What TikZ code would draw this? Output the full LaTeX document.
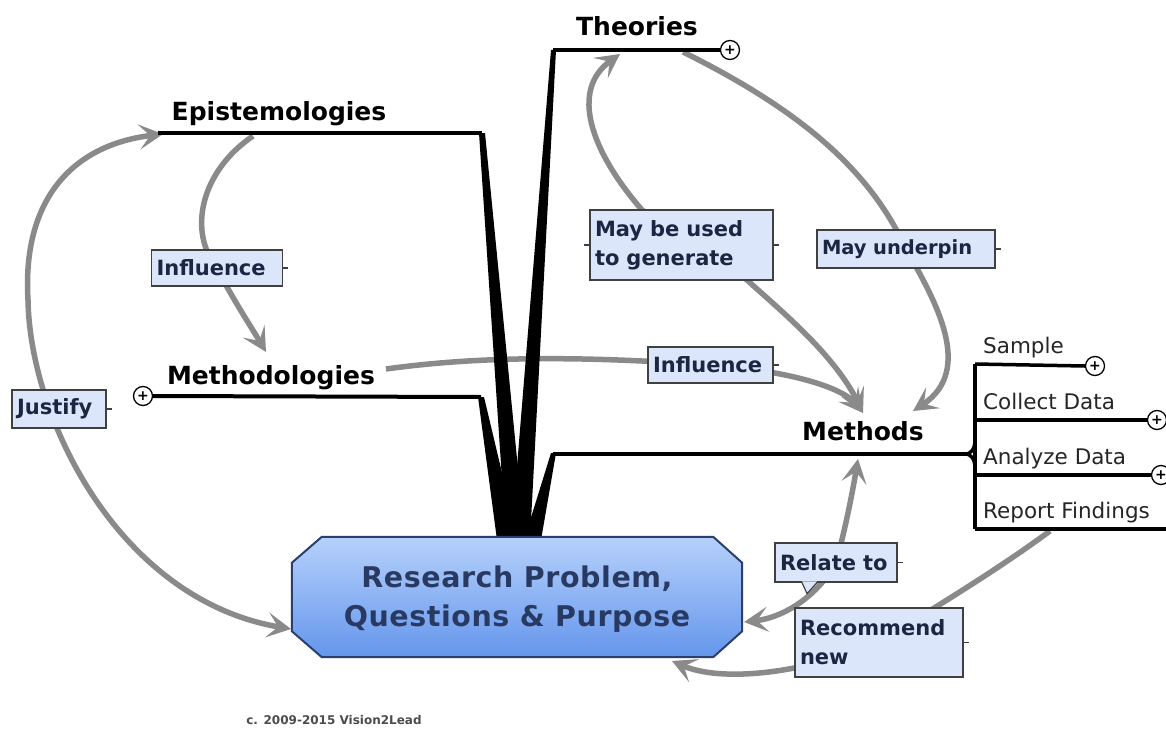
\documentclass[tikz,border=0pt]{standalone}
\usepackage{fontspec}
\setmainfont{DejaVu Sans}
\usetikzlibrary{arrows.meta,calc}

\definecolor{linkgray}{HTML}{8A8A8A}
\definecolor{labelfill}{HTML}{DCE6FB}
\definecolor{labelink}{HTML}{1C2642}
\definecolor{coreedge}{HTML}{2C3F6C}
\definecolor{coreink}{HTML}{283A62}
\definecolor{coretop}{HTML}{B6D1FB}
\definecolor{corebottom}{HTML}{6496EC}

\pgfdeclarelayer{bg}
\pgfsetlayers{bg,main}

\begin{document}
\begin{tikzpicture}[x=1pt,y=-1pt,
  >={Stealth[length=24pt,width=25pt,inset=11pt]},
  topic/.style={font=\fontsize{25}{30}\selectfont\bfseries, text=black, inner sep=0pt, anchor=base},
  subtopic/.style={font=\fontsize{21.5}{26}\selectfont, text=black!85, inner sep=0pt, anchor=base west},
  linklabel/.style={draw=black!75, line width=1.2pt, fill=labelfill, text=labelink,
    font=\fontsize{21}{29}\selectfont\bfseries, inner xsep=5pt, inner ysep=0pt, align=left},
  rel/.style={draw=linkgray, line width=5.5pt},
  branch/.style={line width=4pt, black},
  subbranch/.style={line width=3.5pt, black},
  wedge/.style={fill=black},
  expander/.style={circle, draw=black, line width=1.3pt, fill=white, minimum size=19pt,
    inner sep=0pt, font=\fontsize{14}{14}\selectfont\bfseries},
  ticks/.style={draw=black!75, line width=1.2pt}
]
% page
\useasboundingbox (0,0) rectangle (1166,733);

% central topic: octagonal box with its text
\node[minimum width=450pt, minimum height=120pt, inner sep=0pt] (core) at (517,597) {};
\draw[line width=2pt, draw=coreedge, top color=coretop, bottom color=corebottom]
  ($(core.north west)+(30,0)$) -- ($(core.north east)+(-29,0)$) -- ($(core.north east)+(0,26)$)
  -- ($(core.south east)+(0,-26)$) -- ($(core.south east)+(-29,0)$) -- ($(core.south west)+(30,0)$)
  -- ($(core.south west)+(0,-26)$) -- ($(core.north west)+(0,26)$) -- cycle;
\node[text=coreink, align=center, inner sep=0pt,
      font=\fontsize{28.5}{39}\selectfont\bfseries\addfontfeature{LetterSpace=2}] (coretext) at (517,599)
      {Research Problem,\\Questions \& Purpose};

% main topics
\node[topic] (theories) at (637,36) {Theories};
\node[topic] (epist) at (279,121) {Epistemologies};
\node[topic] (methodol) at (271,384) {Methodologies};
\node[topic] (methods) at (863,440) {Methods};

% subtopics of Methods
\node[subtopic] (sample) at (983,353) {Sample};
\node[subtopic] (collect) at (983,409) {Collect Data};
\node[subtopic] (analyze) at (983,464) {Analyze Data};
\node[subtopic] (report) at (983,518) {Report Findings};

% collapsed-branch markers
\node[expander] (plusT) at (730,50) {+};
\node[expander] (plusM) at (143,396) {+};
\node[expander] (plusS) at (1095,366) {+};
\node[expander] (plusC) at (1157,420) {+};
\node[expander] (plusA) at (1161,475) {+};

% relationship labels
\node[linklabel, text width=121pt, minimum height=36pt] (inflA) at (217,268) {Influence};
\node[linklabel, text width=84pt, minimum height=38pt] (justify) at (59,409) {Justify};
\node[linklabel, text width=173pt, minimum height=70pt] (genL) at (681.5,245) {May be used\\to generate};
\node[linklabel, text width=168pt, minimum height=38pt, font=\fontsize{19.5}{24}\selectfont\bfseries] (underpin) at (906,249) {May underpin};
\node[linklabel, text width=115pt, minimum height=36pt] (inflB) at (710.5,365) {Influence};
\node[linklabel, text width=112pt, minimum height=39pt] (relate) at (836,562.5) {Relate to};
\node[linklabel, text width=158pt, minimum height=69pt] (recommend) at (879,642.5) {Recommend\\new};

% small ticks on the label boxes
\foreach \n in {inflA,justify,genL,underpin,inflB,relate,recommend}
  \draw[ticks] (\n.east) -- ++(5,0);
\draw[ticks] (genL.west) -- ++(-5,0);

% callout pointer under "Relate to"
\fill[labelfill] ($(relate.south)+(-34,-1.2)$) -- ($(relate.south)+(-29,11)$) -- ($(relate.south)+(-19,-1.2)$) -- cycle;
\draw[ticks] ($(relate.south)+(-34,0)$) -- ($(relate.south)+(-29,11)$) -- ($(relate.south)+(-19,0)$);

% branch end points
\coordinate (tL) at (553,50);
\coordinate (eL) at (158,133);
\coordinate (eR) at (482,133);
\coordinate (mR) at (481,397);
\coordinate (msL) at (553,454);
\coordinate (msR) at (966,454);
\coordinate (sTop) at (975,364);
\coordinate (sC) at (975,420);
\coordinate (sA) at (975,475);
\coordinate (sBot) at (975,529);
\coordinate (rEnd) at (1166,529);

% relationship end points
\coordinate (jA) at (163,134);
\coordinate (jB) at (291,629);
\coordinate (iA) at (253,136);
\coordinate (iB) at (266,352);
\coordinate (gA) at (863,413);
\coordinate (gB) at (620,54);
\coordinate (uA) at (683,52);
\coordinate (uB) at (913,411);
\coordinate (fA) at (386,369);
\coordinate (rA) at (744,622);
\coordinate (rB) at (858,459);
\coordinate (cA) at (1050,531);
\coordinate (cB) at (672,661);

\begin{pgfonlayer}{bg}
  \fill[white] (0,0) rectangle (1166,733);

  % relationships
  \draw[rel,<->] (jA) .. controls (72,145) and (22,200) .. (28,300)
                 .. controls (30,420) and (120,600) .. (jB);
  \draw[rel,->] (iA) .. controls (200,172) and (188,232) .. (inflA.center)
                .. controls (232,298) and (250,325) .. (iB);
  \draw[rel,<->] (gA) .. controls (835,355) and (780,310) .. (747,280) -- (642,210)
                 .. controls (590,150) and (570,90) .. (gB);
  \draw[rel,->] (uA) .. controls (800,110) and (870,170) .. (underpin.center)
                .. controls (935,300) and (975,370) .. (uB);
  \draw[rel,->] (fA) .. controls (480,356) and (580,356) .. (inflB.center)
                .. controls (800,372) and (845,390) .. (gA);
  \draw[rel,<->] (rA) .. controls (780,618) and (815,600) .. (relate.center)
                 .. controls (845,530) and (852,495) .. (rB);
  \draw[rel,->] (cA) .. controls (990,575) and (930,610) .. (recommend.center)
                .. controls (800,675) and (720,682) .. (cB);

  % tapered branches from the central topic
  \fill[wedge] (479,133) -- (485,133) -- (525,540) -- (506,540) -- cycle;
  \fill[wedge] (551,50) -- (556,50) -- (530,540) -- (511,540) -- cycle;
  \fill[wedge] (478,397) -- (484,397) -- (518,540) -- (497,540) -- cycle;
  \fill[wedge] (551,453) -- (556,453) -- (541,540) -- (524,540) -- cycle;

  % branch lines under the topics
  \draw[branch] (tL) -- (plusT.west);
  \draw[branch] (eL) -- (eR);
  \draw[branch] (plusM.east) -- (mR);
  \draw[branch] (msL) -- (msR);

  % Methods sub-branches
  \draw[subbranch] (sTop) -- (sBot);
  \draw[subbranch] (975,440) .. controls (975,450) and (970,454) .. (msR)
                   .. controls (970,454) and (975,458) .. (975,468);
  \draw[subbranch] (sTop) -- (plusS.west);
  \draw[subbranch] (sC) -- (plusC.west);
  \draw[subbranch] (sA) -- (plusA.west);
  \draw[subbranch] (sBot) -- (rEnd);
\end{pgfonlayer}

% credit line
\node[font=\fontsize{12}{14}\selectfont\bfseries, text=black!70, anchor=base, inner sep=0pt] (credit)
  at (334,724) {c. 2009-2015 Vision2Lead};
\end{tikzpicture}
\end{document}
